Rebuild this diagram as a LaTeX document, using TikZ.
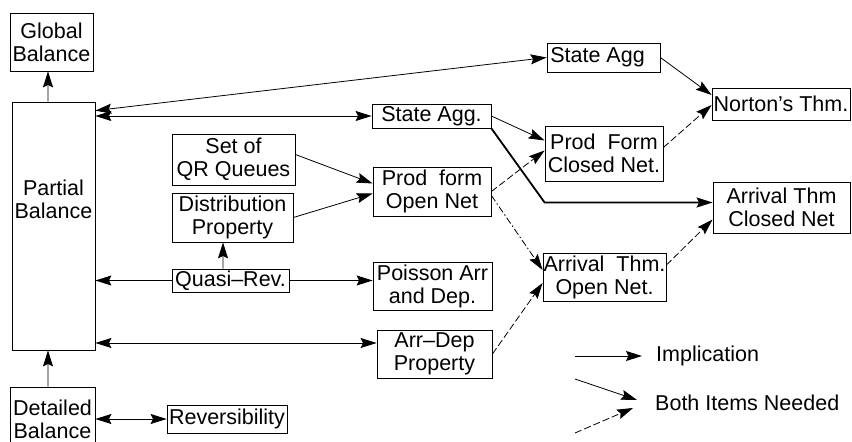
\documentclass[tikz,border=0pt]{standalone}
\usepackage{fontspec}
\setmainfont{Liberation Sans}
\usetikzlibrary{arrows.meta}
\begin{document}
\begin{tikzpicture}[x=1bp,y=-1bp,
  every node/.style={font=\fontsize{21.5bp}{23bp}\selectfont},
  box/.style={draw,line width=0.8bp,inner sep=0pt,align=center},
  txt/.style={inner sep=0pt,align=center},
  tip/.style={},
  conn/.style={line width=0.8bp,-{Stealth[length=16bp,width=10bp,inset=2.5bp]}},
  dconn/.style={conn,{Stealth[length=16bp,width=10bp,inset=2.5bp]}-{Stealth[length=16bp,width=10bp,inset=2.5bp]}},
  need/.style={conn,dash pattern=on 7bp off 3bp},
  needdd/.style={conn,dash pattern=on 7bp off 2.5bp on 1.5bp off 2.5bp},
  thickc/.style={conn,line width=1.8bp}]
\useasboundingbox (0,0) rectangle (852,442);
\fill[white] (0,0) rectangle (852,442);
% boxes
\node[box,minimum width=83bp,minimum height=58bp] (gb) at (51.5,42) {Global\\Balance};
\node[box,minimum width=83bp,minimum height=248bp] (pb) at (53.5,226) {};
\node[txt] (pbt) at (53.5,199) {Partial\\Balance};
\node[box,minimum width=85bp,minimum height=60bp] (db) at (52.5,417) {};
\node[txt] (dbt) at (52.5,419) {Detailed\\Balance};
\node[box,minimum width=120bp,minimum height=28bp] (rv) at (227,419) {Reversibility};
\node[box,minimum width=117bp,minimum height=23bp] (qr) at (230.5,280.5) {Quasi--Rev.};
\node[box,minimum width=121bp,minimum height=49bp] (dp) at (232.5,217.5) {Distribution\\Property};
\node[box,minimum width=123bp,minimum height=51bp] (sq) at (233.5,159.5) {Set of\\QR Queues};
\node[box,minimum width=119bp,minimum height=48bp] (po) at (432.5,286) {Poisson Arr\\and Dep.};
\node[box,minimum width=115bp,minimum height=48bp] (ad) at (434.5,354) {Arr--Dep\\Property};
\node[box,minimum width=118bp,minimum height=49bp] (pfo) at (432,191.5) {Prod\ \ form\\Open Net};
\node[box,minimum width=119bp,minimum height=24bp] (sa2) at (431.5,116) {State Agg.};
\node[box,minimum width=113bp,minimum height=29bp] (sa1) at (603.5,57.5) {State Agg\ \ };
\node[box,minimum width=138bp,minimum height=32bp] (nt) at (781,104) {Norton's Thm.};
\node[box,minimum width=118bp,minimum height=55bp] (pfc) at (604,153.5) {Prod\ \ Form\\Closed Net.};
\node[box,minimum width=137bp,minimum height=51bp] (atc) at (781.5,207.5) {Arrival Thm\\Closed Net};
\node[box,minimum width=123bp,minimum height=48bp] (ato) at (604.5,277) {Arrival\ \ Thm.\\Open Net.};
% connectors
\draw[conn] ([xshift=-5.5bp]pb.north) -- ([xshift=-3.5bp]gb.south);
\draw[conn] ([xshift=-4.5bp]db.north) -- ([xshift=-5.5bp]pb.south);
\draw[dconn] ([yshift=-9bp]pb.north east) -- (sa1.west);
\draw[dconn] (pb.east |- sa2.west) -- (sa2.west);
\draw[conn] (qr.west) -- (pb.east |- qr.west);
\draw[conn] (qr.east) -- (po.west |- qr.east);
\draw[conn] ([xshift=-7.5bp]qr.north) -- ([xshift=-9.5bp]dp.south);
\path ([yshift=11bp]ad.west) coordinate (adl);
\draw[dconn] (adl -| pb.east) -- (adl);
\draw[dconn] (db.east |- rv.west) -- (rv.west);
\draw[conn] ([yshift=5bp]sq.east) -- ([yshift=8bp]pfo.west);
\draw[conn] (dp.east) -- ([yshift=-2bp]pfo.west);
\draw[conn] (sa2.east) -- ([yshift=13bp]pfc.west);
\draw[need] (pfo.east) -- ([yshift=3bp]pfc.west);
\path ([yshift=5bp]atc.west) coordinate (atcin);
\draw[thickc] (sa2.south east) -- (pfc.west |- atcin) -- (atcin);
\draw[needdd] ([yshift=-4bp]pfo.east) -- ([yshift=7bp]ato.west);
\draw[need] (ad.east) -- ([yshift=-6bp]ato.west);
\draw[need] ([yshift=12bp]ato.east) -- ([yshift=-12bp]atc.west);
\draw[conn] (sa1.east) -- ([yshift=9bp]nt.west);
\draw[need] ([yshift=6bp]pfc.east) -- ([yshift=-1bp]nt.west);
% legend
\node[txt,anchor=west] (li) at (656,356) {Implication};
\node[txt,anchor=west] (lb) at (655,403) {Both Items Needed};
\coordinate (l1) at (575,356);
\coordinate (l2) at (575,379);
\coordinate (l3) at (575,433);
\draw[conn] (l1) -- ([xshift=-14bp]li.west);
\draw[conn] (l2) -- ([xshift=-18bp,yshift=3bp]lb.west);
\draw[need] (l3) -- ([xshift=-22bp,yshift=-5bp]lb.west);
\end{tikzpicture}
\end{document}
